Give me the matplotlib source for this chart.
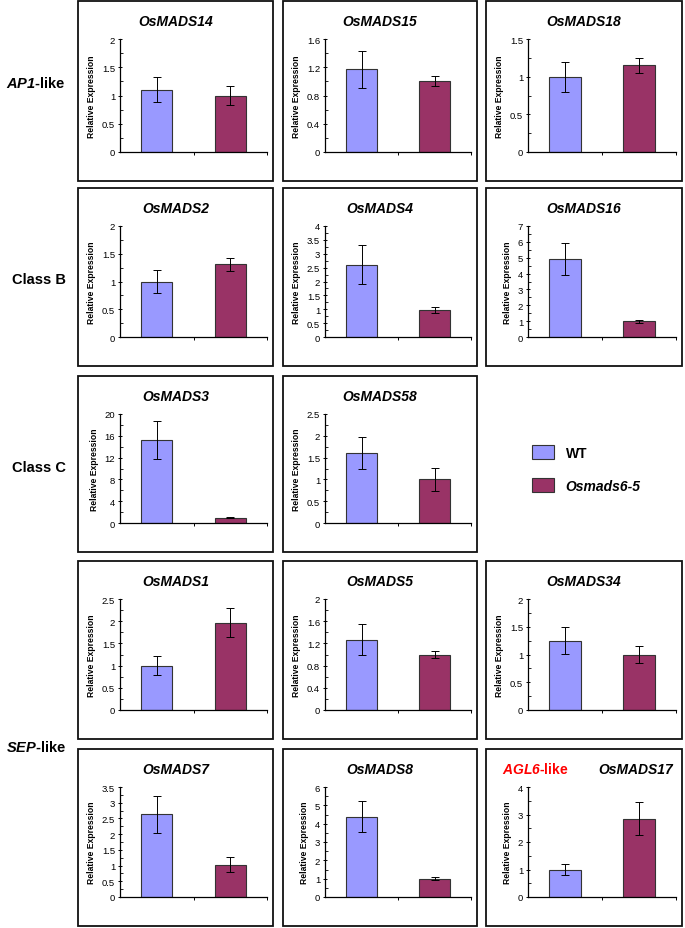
import matplotlib
matplotlib.use('Agg')
import matplotlib.pyplot as plt
from matplotlib.patches import Rectangle
from matplotlib.ticker import MultipleLocator, AutoMinorLocator

plt.rcParams['font.family'] = ['Liberation Sans', 'DejaVu Sans']
plt.rcParams['mathtext.fontset'] = 'custom'
plt.rcParams['mathtext.bfit'] = 'Liberation Sans:bold:italic'

# ---- data ----
genes = ['OsMADS14', 'OsMADS15', 'OsMADS18',
         'OsMADS2', 'OsMADS4', 'OsMADS16',
         'OsMADS3', 'OsMADS58',
         'OsMADS1', 'OsMADS5', 'OsMADS34',
         'OsMADS7', 'OsMADS8', 'OsMADS17']
wt_vals = [1.10, 1.17, 1.00, 1.00, 2.60, 4.90, 15.2, 1.60, 1.00, 1.27, 1.25, 2.63, 4.38, 1.00]
wt_err = [0.22, 0.26, 0.20, 0.21, 0.70, 1.00, 3.45, 0.37, 0.21, 0.28, 0.24, 0.58, 0.85, 0.19]
mut_vals = [1.00, 1.00, 1.15, 1.31, 0.97, 1.00, 1.00, 1.00, 1.97, 1.00, 1.00, 1.02, 1.00, 2.85]
mut_err = [0.16, 0.07, 0.10, 0.12, 0.12, 0.10, 0.15, 0.27, 0.32, 0.07, 0.16, 0.24, 0.08, 0.60]
y_max = [2, 1.6, 1.5, 2, 4, 7, 20, 2.5, 2.5, 2, 2, 3.5, 6, 4]
y_step = [0.5, 0.4, 0.5, 0.5, 0.5, 1, 4, 0.5, 0.5, 0.4, 0.5, 0.5, 1, 1]
groups = ['WT', 'Osmads6-5']
row_labels = [r'$\mathbfit{AP1}$-like', 'Class B', 'Class C', r'$\mathbfit{SEP}$-like']

# ---- layout (pixels) ----
W, H = 685, 929
cols = [(78, 273), (283, 477), (486, 682)]
rows = [(2, 182), (189, 367), (377, 553), (562, 740), (750, 927)]
slots = [(0, 0), (0, 1), (0, 2), (1, 0), (1, 1), (1, 2), (2, 0), (2, 1),
         (3, 0), (3, 1), (3, 2), (4, 0), (4, 1), (4, 2)]
row_label_y = [83, 280, 468, 747]

wt_color = '#9999FF'
mut_color = '#993366'

fig = plt.figure(figsize=(W / 100, H / 100), dpi=100)


def fx(x):
    return x / W


def fy(y):
    return 1 - y / H


for i, gene in enumerate(genes):
    r, c = slots[i]
    x0, x1 = cols[c]
    y0, y1 = rows[r]

    # moldura do painel
    fig.patches.append(Rectangle((fx(x0), fy(y1)), (x1 - x0) / W, (y1 - y0) / H,
                                 transform=fig.transFigure, fill=False,
                                 edgecolor='#111111', linewidth=1.3))

    ax = fig.add_axes([fx(x0 + 42), fy(y1 - 29), (x1 - x0 - 48) / W, (y1 - y0 - 67) / H])
    ax.bar([0, 1], [wt_vals[i], mut_vals[i]], width=0.42,
           color=[wt_color, mut_color], edgecolor='#333333', linewidth=0.8,
           yerr=[wt_err[i], mut_err[i]], capsize=3,
           error_kw=dict(elinewidth=0.7, capthick=0.7, ecolor='black'))
    ax.set_xlim(-0.5, 1.5)
    ax.set_ylim(0, y_max[i])
    ax.yaxis.set_major_locator(MultipleLocator(y_step[i]))
    ax.yaxis.set_minor_locator(AutoMinorLocator(2))
    ax.set_xticks([0.5, 1.5])
    ax.set_xticklabels([])
    ax.yaxis.set_major_formatter(plt.FuncFormatter(lambda v, p: f'{v:g}'))
    for s in ['top', 'right']:
        ax.spines[s].set_visible(False)
    for s in ['left', 'bottom']:
        ax.spines[s].set_linewidth(0.9)
    ax.tick_params(axis='y', which='major', labelsize=6.8, length=3, width=0.7,
                   direction='inout', pad=2)
    ax.tick_params(axis='y', which='minor', length=2, width=0.6, direction='in')
    ax.tick_params(axis='x', length=2.5, width=0.7, direction='out')
    ax.set_ylabel('Relative Expression', fontsize=6.2, fontweight='bold', labelpad=4)

    tx = (x0 + x1) / 2
    if gene == 'OsMADS17':
        tx = 636
        fig.text(fx(535), fy(y0 + 20), r'$\mathbfit{AGL6}$-like', color='red',
                 fontsize=10, fontweight='bold', ha='center', va='center')
    fig.text(fx(tx), fy(y0 + 20), gene, fontsize=10, fontweight='bold',
             fontstyle='italic', ha='center', va='center')

for lab, yy in zip(row_labels, row_label_y):
    fig.text(fx(66), fy(yy), lab, fontsize=10.5, fontweight='bold',
             ha='right', va='center')

handles = [Rectangle((0, 0), 1, 1, fc=wt_color, ec='#333333', lw=0.8),
           Rectangle((0, 0), 1, 1, fc=mut_color, ec='#333333', lw=0.8)]
leg = fig.legend(handles, groups, loc='center left',
                 bbox_to_anchor=(fx(519), fy(470)), frameon=False,
                 prop=dict(weight='bold', size=10), handlelength=1.65,
                 handleheight=1.2, labelspacing=1.3, handletextpad=0.8)
leg.get_texts()[1].set_fontstyle('italic')

fig.savefig('out.png', dpi=100)
